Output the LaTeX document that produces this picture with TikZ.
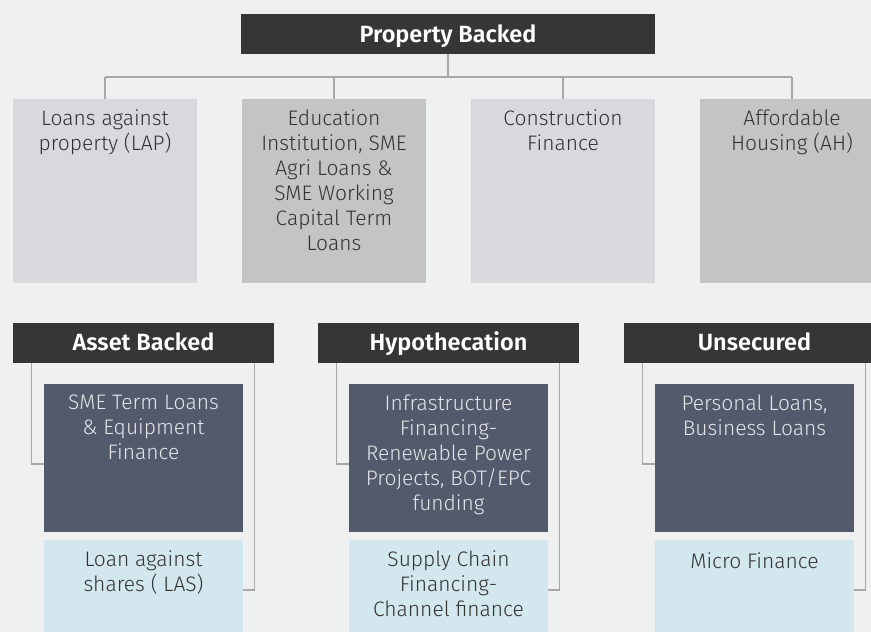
\documentclass[tikz,border=0pt]{standalone}
\usepackage{fontspec}
\setmainfont{Fira Sans}[UprightFont={* Light}, BoldFont={* SemiBold}]
\definecolor{bgc}{HTML}{EFF0F0}
\definecolor{hdrc}{HTML}{363636}
\definecolor{lgc}{HTML}{D8D9DD}
\definecolor{mgc}{HTML}{C4C4C4}
\definecolor{dkc}{HTML}{525A6B}
\definecolor{lbc}{HTML}{D3E7EE}
\definecolor{linec}{HTML}{A8A8A8}
\definecolor{txtc}{HTML}{333333}
\definecolor{wtxc}{HTML}{E4E6EA}
\tikzset{
  hdr/.style={fill=hdrc, draw=none, inner sep=0pt},
  hdrtext/.style={text=white, inner sep=0pt, anchor=base, font=\fontsize{23.5}{28}\selectfont\bfseries},
  cbox/.style={draw=none, inner sep=0pt},
  ctext/.style={inner sep=0pt, align=center, anchor=north, font=\fontsize{21}{25}\selectfont, execute at begin node=\strut},
  conn/.style={draw=linec, line width=1.3pt},
}
\begin{document}
\begin{tikzpicture}[x=1pt,y=-1pt]
\useasboundingbox (0,0) rectangle (871,632);
\clip (0,0) rectangle (871,632);
\fill[bgc] (0,0) rectangle (871,632);

% top header
\node[hdr, minimum width=414pt, minimum height=40pt] (top) at (448,34) {};
\node[hdrtext] (topt) at ([yshift=-29pt]top.north) {Property Backed};
\coordinate (bus) at (448,77);

% top boxes
\node[cbox, fill=lgc, minimum width=184pt, minimum height=184pt] (b1) at (105,191) {};
\node[cbox, fill=mgc, minimum width=184pt, minimum height=184pt] (b2) at (334,191) {};
\node[cbox, fill=lgc, minimum width=184pt, minimum height=184pt] (b3) at (563,191) {};
\node[cbox, fill=mgc, minimum width=184pt, minimum height=184pt] (b4) at (792,191) {};
\node[ctext, text=txtc] (t1) at ([yshift=-10.5pt]b1.north) {Loans against\\property (LAP)};
\node[ctext, text=txtc] (t2) at ([yshift=-10.5pt]b2.north) {Education\\Institution, SME\\Agri Loans \&\\SME Working\\Capital Term\\Loans};
\node[ctext, text=txtc] (t3) at ([yshift=-10.5pt]b3.north) {Construction\\Finance};
\node[ctext, text=txtc] (t4) at ([yshift=-10.5pt]b4.north) {Affordable\\Housing (AH)};

\draw[conn] (top.south) -- (bus);
\draw[conn] (b1.north |- bus) -- (b4.north |- bus);
\foreach \b in {b1,b2,b3,b4} \draw[conn] (\b.north |- bus) -- (\b.north);

% bottom groups
\foreach \g/\n in {0/A,305/B,611/C} {
  \node[hdr, minimum width=261pt, minimum height=40pt] (h\n) at (143.5+\g,343) {};
  \node[cbox, fill=dkc, minimum width=199pt, minimum height=148pt] (d\n) at (143.5+\g,458) {};
  \node[cbox, fill=lbc, minimum width=199pt, minimum height=105pt] (l\n) at (143.5+\g,592.5) {};
  \draw[conn] ([xshift=19pt]h\n.south west) |- ([yshift=-6pt]d\n.west);
  \draw[conn] ([xshift=-20pt]h\n.south east) |- ([yshift=2.5pt]l\n.east);
}
\node[hdrtext] (hAt) at ([yshift=-28pt]hA.north) {Asset Backed};
\node[hdrtext] (hBt) at ([yshift=-28pt]hB.north) {Hypothecation};
\node[hdrtext] (hCt) at ([yshift=-28pt]hC.north) {Unsecured};

\node[ctext, text=wtxc] (dAt) at ([yshift=-11pt]dA.north) {SME Term Loans\\\& Equipment\\Finance};
\node[ctext, text=wtxc] (dBt) at ([yshift=-11pt]dB.north) {Infrastructure\\Financing-\\Renewable Power\\Projects, BOT/EPC\\funding};
\node[ctext, text=wtxc] (dCt) at ([yshift=-11pt]dC.north) {Personal Loans,\\Business Loans};

\node[ctext, text=txtc] (lAt) at ([yshift=-11pt]lA.north) {Loan against\\shares ( LAS)};
\node[ctext, text=txtc] (lBt) at ([yshift=-11pt]lB.north) {Supply Chain\\Financing-\\Channel finance};
\node[ctext, text=txtc] (lCt) at ([yshift=-11pt]lC.north) {Micro Finance};
\end{tikzpicture}
\end{document}
